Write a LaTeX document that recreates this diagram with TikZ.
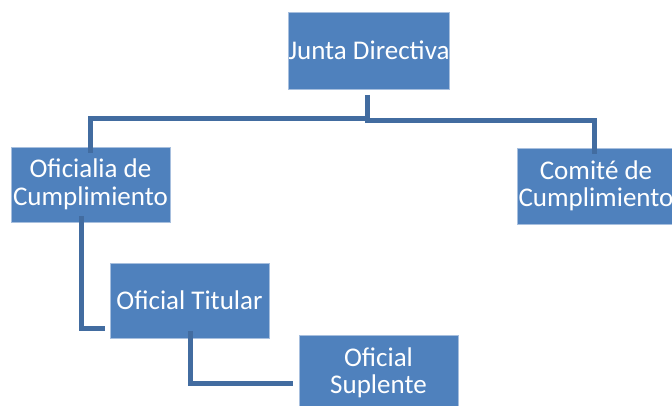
\documentclass[tikz,border=0pt]{standalone}
\usepackage{fontspec}
\setmainfont{Carlito}
\definecolor{boxfill}{RGB}{79,129,189}
\definecolor{boxedge}{RGB}{167,191,222}
\definecolor{linkcol}{RGB}{66,108,160}
\tikzset{
  orgbox/.style={draw=boxedge, line width=0.8pt, fill=boxfill, text=white,
    inner sep=0pt, minimum width=158pt, minimum height=76pt, align=center,
    font=\fontsize{27}{27.5}\selectfont},
  link/.style={draw=linkcol, line width=5pt, line join=miter, line cap=butt}
}
\begin{document}
\begin{tikzpicture}[x=1pt,y=-1pt]
\useasboundingbox (0,0) rectangle (672,406);
\clip (0,0) rectangle (672,406);
\node[orgbox, minimum height=77pt] (J) at (369,50.5) {Junta Directiva};
\node[orgbox, minimum width=159pt, minimum height=75pt] (O) at (90.5,184.5) {Oficialia de\\Cumplimiento};
\node[orgbox] (C) at (596,186) {Comité de\\Cumplimiento};
\node[orgbox, minimum width=159pt, minimum height=75pt] (T) at (189.5,300.5) {Oficial Titular};
\node[orgbox, minimum width=159pt] (S) at (378.5,373) {Oficial\\Suplente};
% junction coordinates
\coordinate (jtop) at (367,95);
\coordinate (jmid) at (367,121);
\draw[link] (jtop) -- (jmid);
\draw[link] (369,118.5) -| ([yshift=-6pt]O.north -| 90,0);
\draw[link] (365,120.5) -| ([yshift=-6pt]C.north -| 594,0);
\draw[link] ([yshift=6pt]O.south -| 81,0) |- ([xshift=-5pt]T.west |- 0,328);
\draw[link] ([yshift=7pt]T.south -| 190,0) |- ([xshift=-6pt]S.west |- 0,383);
\end{tikzpicture}
\end{document}
